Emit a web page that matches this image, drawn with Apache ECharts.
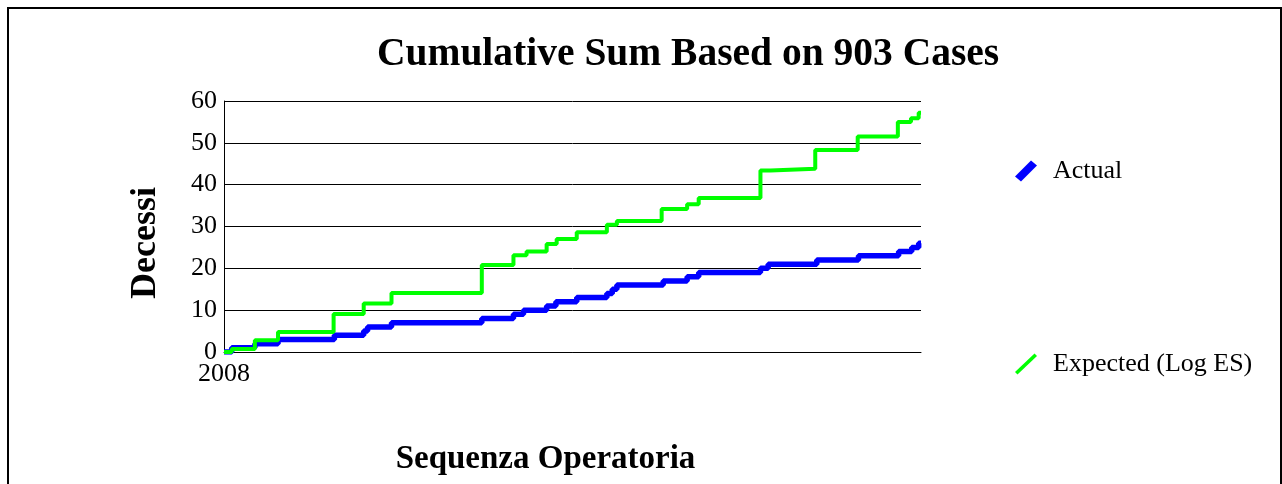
<!DOCTYPE html>
<html>
<head>
<meta charset="utf-8">
<script src="https://cdn.jsdelivr.net/npm/echarts@6/dist/echarts.min.js"></script>
<style>
html,body{margin:0;padding:0;background:#fff;}
#c{width:1282px;height:484px;}
</style>
</head>
<body>
<div id="c"></div>
<script>
// Case index where each cumulative step starts, and the cumulative value from there on
const totalCases = 903;
const actualCases = [0, 10, 40, 70, 143, 181, 186, 217, 334, 375, 388, 418, 430, 457, 496, 503, 509, 569, 600, 615, 695, 705, 768, 822, 874, 891, 900];
const actualValues = [0, 1, 2, 3, 4, 5, 6, 7, 8, 9, 10, 11, 12, 13, 14, 15, 16, 17, 18, 19, 20, 21, 22, 23, 24, 25, 26];
const expectedCases = [0, 10, 40, 70, 142, 181, 217, 334, 375, 392, 418, 431, 457, 496, 509, 567, 600, 615, 695, 708, 766, 821, 873, 890, 900];
const expectedValues = [0, 0.7, 2.8, 4.8, 9.1, 11.6, 14.1, 20.8, 23.1, 24.0, 25.8, 27.0, 28.6, 30.4, 31.3, 34.2, 35.3, 36.8, 43.4, 43.8, 48.3, 51.5, 55.0, 55.9, 57.2];
const yTicks = [0, 10, 20, 30, 40, 50, 60];
const startLabel = '2008';
const seriesNames = ['Actual', 'Expected (Log ES)'];

function pairs(xs, ys) {
  const out = xs.map((x, i) => [x, ys[i]]);
  out.push([totalCases, ys[ys.length - 1]]);
  return out;
}

const serif = '"Liberation Serif", "Times New Roman", serif';
const chart = echarts.init(document.getElementById('c'), null, {renderer: 'canvas'});
chart.setOption({
  animation: false,
  backgroundColor: '#ffffff',
  title: {
    text: 'Cumulative Sum Based on 903 Cases',
    left: 372, top: 30,
    textStyle: {fontFamily: serif, fontWeight: 'bold', fontSize: 39.5, color: '#000'}
  },
  legend: {
    orient: 'vertical',
    left: 1015, top: 158, padding: 0,
    itemWidth: 22, itemHeight: 21,
    itemGap: 167,
    textStyle: {fontFamily: serif, fontSize: 26, color: '#000', padding: [0, 0, 0, 11]},
    data: [
      {name: seriesNames[0], icon: 'path://M0,16 L16,0 L22,5 L6,21 Z'},
      {name: seriesNames[1], icon: 'path://M0,18.5 L19.5,0 L22,2.5 L2.5,21 Z'}
    ]
  },
  grid: {left: 224, right: 361, top: 101, bottom: 132, containLabel: false},
  xAxis: {
    type: 'value', min: 0, max: totalCases, interval: totalCases,
    name: 'Sequenza Operatoria', nameLocation: 'middle', nameGap: 91,
    nameTextStyle: {fontFamily: serif, fontWeight: 'bold', fontSize: 33, color: '#000', padding: [0, 54, 0, 0]},
    axisLine: {show: true, lineStyle: {color: '#000', width: 1}},
    axisTick: {show: false},
    splitLine: {show: false},
    axisLabel: {
      margin: 9, fontFamily: serif, fontSize: 26, color: '#000',
      formatter: v => (v === 0 ? startLabel : '')
    }
  },
  yAxis: {
    type: 'value', min: yTicks[0], max: yTicks[yTicks.length - 1], interval: 10,
    name: 'Decessi', nameLocation: 'middle', nameGap: 60, nameRotate: 90,
    nameTextStyle: {fontFamily: serif, fontWeight: 'bold', fontSize: 36, color: '#000', padding: [0, 33, 0, 0]},
    axisLine: {show: true, lineStyle: {color: '#000', width: 1}},
    axisTick: {show: false},
    splitLine: {show: true, lineStyle: {color: '#000', width: 1}},
    axisLabel: {margin: 7, fontFamily: serif, fontSize: 26, color: '#000'}
  },
  graphic: [{
    type: 'rect', silent: true, z: -1,
    shape: {x: 8, y: 8, width: 1273, height: 520},
    style: {fill: 'none', stroke: '#000', lineWidth: 2}
  }],
  series: [
    {
      name: seriesNames[0], type: 'line', step: 'end', showSymbol: false,
      data: pairs(actualCases, actualValues),
      lineStyle: {color: '#0000ff', width: 5.5},
      itemStyle: {color: '#0000ff'}
    },
    {
      name: seriesNames[1], type: 'line', step: 'end', showSymbol: false,
      data: pairs(expectedCases, expectedValues),
      lineStyle: {color: '#00ff00', width: 4},
      itemStyle: {color: '#00ff00'}
    }
  ]
});
</script>
</body>
</html>
